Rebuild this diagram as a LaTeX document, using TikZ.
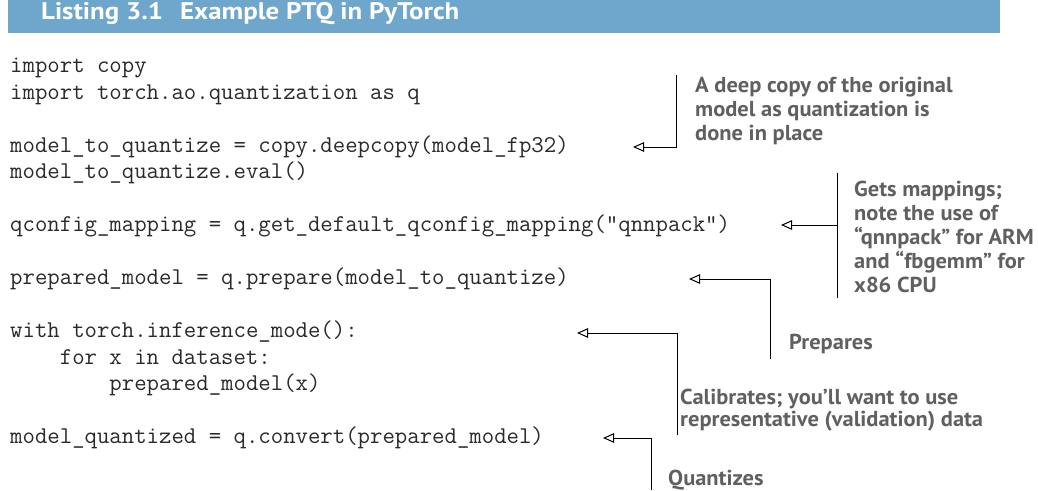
\documentclass[tikz,border=0pt]{standalone}
\usepackage{fontspec}
\setsansfont{PT Sans}
\newfontfamily\annofont[FakeStretch=1.04]{PT Sans}
\newfontfamily\titlefont[FakeStretch=1.12]{PT Sans}
\usetikzlibrary{arrows.meta}
\definecolor{hdr}{HTML}{6FA6CC}
\definecolor{annoc}{HTML}{606060}
\definecolor{codec}{HTML}{2A2A2A}
\begin{document}
\begin{tikzpicture}[x=1pt,y=-1pt,
  codeline/.style={anchor=base west, inner sep=0pt, font=\fontsize{24.1}{26}\ttfamily, text=codec},
  annot/.style={anchor=base west, inner sep=0pt, align=left, font=\fontsize{21.6}{24}\annofont\bfseries, text=annoc},
  titletext/.style={anchor=base west, inner sep=0pt, font=\fontsize{24}{26}\titlefont\bfseries, text=white},
  wire/.style={draw=black, line width=1pt},
  callout/.style={wire, -{Triangle[open, length=11pt, width=9.5pt, line width=1pt]}}
]
\useasboundingbox (0,0) rectangle (1038,490);
\fill[white] (0,0) rectangle (1038,490);
% header
\fill[hdr] (8,0) rectangle (1000,33);
\node[titletext] (t1) at (41,19) {Listing 3.1};
\node[titletext] (t2) at (180,19) {Example PTQ in PyTorch};
% code
\node[codeline] (c0) at (10,72.5) {import copy};
\node[codeline] (c1) at (10,99) {import torch.ao.quantization as q};
\node[codeline] (c3) at (10,152) {model\_to\_quantize = copy.deepcopy(model\_fp32)};
\node[codeline] (c4) at (10,178.5) {model\_to\_quantize.eval()};
\node[codeline] (c6) at (10,231.5) {qconfig\_mapping = q.get\_default\_qconfig\_mapping("qnnpack")};
\node[codeline] (c8) at (10,284.5) {prepared\_model = q.prepare(model\_to\_quantize)};
\node[codeline] (c10) at (10,337.5) {with torch.inference\_mode():};
\node[codeline] (c11) at (10,364) {\ \ \ \ for x in dataset:};
\node[codeline] (c12) at (10,390.5) {\ \ \ \ \ \ \ \ prepared\_model(x)};
\node[codeline] (c14) at (10,443.5) {model\_quantized = q.convert(prepared\_model)};
% annotations (base anchor = baseline of last line)
\node[annot] (n1) at (695,140) {A deep copy of the original\\model as quantization is\\done in place};
\node[annot] (n2) at (854,292) {Gets mappings;\\note the use of\\“qnnpack” for ARM\\and “fbgemm” for\\x86 CPU};
\node[annot] (n3) at (789,349) {Prepares};
\node[annot, font=\fontsize{21.6}{21.5}\annofont\bfseries] (n4) at (680,426) {Calibrates; you’ll want to use\\representative (validation) data};
\node[annot] (n5) at (668,485) {Quantizes};
% connector points
\coordinate (a1s) at (676,75);   \coordinate (a1t) at (633,147);
\coordinate (a2s) at (837,173);  \coordinate (a2e) at (837,298);
\coordinate (a2m) at (837,225);  \coordinate (a2t) at (781,225);
\coordinate (a3s) at (770,359);  \coordinate (a3t) at (689,279);
\coordinate (a4s) at (677,435);  \coordinate (a4t) at (577,333);
\coordinate (a5s) at (651,490);  \coordinate (a5t) at (603,438);
% connectors
\draw[callout] (a1s) |- (a1t);
\draw[wire] (a2s) -- (a2e);
\draw[callout] (a2m) -- (a2t);
\draw[callout] (a3s) |- (a3t);
\draw[callout] (a4s) |- (a4t);
\draw[callout] (a5s) |- (a5t);
\end{tikzpicture}
\end{document}
